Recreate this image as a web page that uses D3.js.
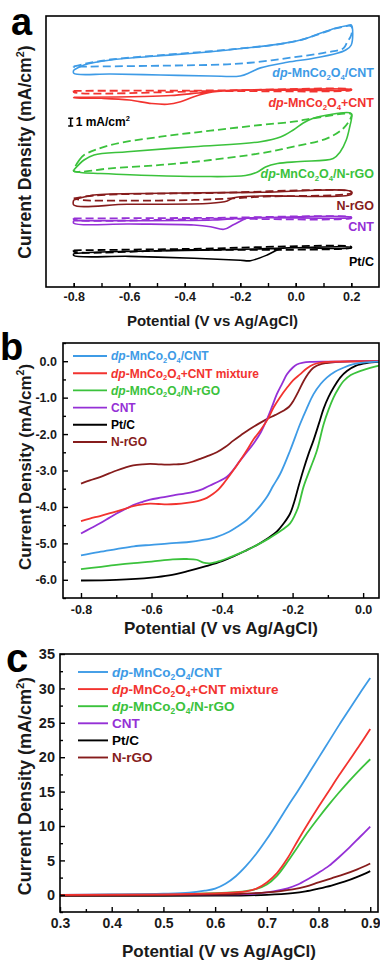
<!DOCTYPE html>
<html>
<head>
<meta charset="utf-8">
<script src="https://cdn.jsdelivr.net/npm/d3@7"></script>
<style>
  body { margin: 0; background: #fff; }
  svg { display: block; }
  text { font-family: "Liberation Sans", Arial, Helvetica, sans-serif; font-weight: bold; }
</style>
</head>
<body>
<svg id="fig" width="380" height="963"></svg>
<script>
// ---- colours / names ----
const COL = { blue: '#3e9be6', red: '#f2332f', green: '#3bc23c', purple: '#9530d6', black: '#000000', maroon: '#861c1c' };

const nameCNT = [{ t: 'dp', i: 1 }, { t: '-MnCo' }, { t: '2', sub: 1 }, { t: 'O' }, { t: '4', sub: 1 }, { t: '/CNT' }];
const nameMixA = [{ t: 'dp', i: 1 }, { t: '-MnCo' }, { t: '2', sub: 1 }, { t: 'O' }, { t: '4', sub: 1 }, { t: '+CNT' }];
const nameMix = [{ t: 'dp', i: 1 }, { t: '-MnCo' }, { t: '2', sub: 1 }, { t: 'O' }, { t: '4', sub: 1 }, { t: '+CNT mixture' }];
const nameNrGO = [{ t: 'dp', i: 1 }, { t: '-MnCo' }, { t: '2', sub: 1 }, { t: 'O' }, { t: '4', sub: 1 }, { t: '/N-rGO' }];

// ---- panel a: CV loops (E in V, stacked current in mA/cm2, arbitrary offset) ----
const cvBlueSolid = [[-0.8, 28.03], [-0.763, 28.67], [-0.667, 29.32], [-0.487, 29.87], [-0.307, 30.39], [-0.187, 30.83], [-0.067, 31.34], [0.017, 31.90], [0.088, 32.76], [0.149, 33.49], [0.185, 33.75], [0.2, 33.84],
  [0.2, 31.25], [0.18, 30.61], [0.149, 30.18], [0.064, 29.54], [-0.031, 29.02], [-0.127, 28.30], [-0.163, 27.73], [-0.2, 27.25], [-0.307, 27.25], [-0.487, 27.38], [-0.667, 27.51], [-0.8, 27.60]];
const cvBlueDash = [[-0.8, 28.48], [-0.763, 28.80], [-0.667, 29.38], [-0.487, 29.94], [-0.307, 30.45], [-0.187, 30.85], [-0.067, 31.32], [0.017, 31.88], [0.088, 32.72], [0.149, 33.42], [0.2, 33.68],
  [0.2, 32.55], [0.185, 31.6], [0.172, 30.83], [0.113, 30.31], [-0.008, 29.67], [-0.127, 29.10], [-0.247, 28.76], [-0.487, 28.58], [-0.775, 28.45], [-0.8, 28.42]];
const cvRedSolid = [[-0.8, 24.50], [-0.55, 24.60], [-0.45, 24.73], [-0.35, 25.05], [-0.25, 25.38], [-0.1, 25.49], [0.2, 25.53],
  [0.2, 25.48], [-0.2, 25.44], [-0.3, 25.18], [-0.367, 24.58], [-0.415, 23.93], [-0.463, 23.60], [-0.52, 23.70], [-0.6, 24.15], [-0.7, 24.37], [-0.8, 24.45]];
const cvRedDash = [[-0.8, 25.34], [-0.3, 25.38], [0.2, 25.51], [0.2, 25.44], [-0.3, 25.30], [-0.8, 25.18]];
const cvGreenSolid = [[-0.8, 15.11], [-0.763, 16.40], [-0.727, 17.05], [-0.607, 17.47], [-0.367, 18.12], [-0.127, 18.77], [-0.055, 19.37], [-0.009, 20.28], [0.027, 21.18], [0.063, 21.79], [0.114, 22.21], [0.2, 22.41],
  [0.2, 21.57], [0.196, 20.92], [0.182, 18.98], [0.16, 17.44], [0.135, 16.60], [0.017, 16.21], [-0.066, 15.95], [-0.109, 15.50], [-0.138, 14.85], [-0.181, 14.40], [-0.343, 14.27], [-0.523, 14.40], [-0.703, 14.66], [-0.775, 14.79], [-0.8, 14.98]];
const cvGreenDash = [[-0.78, 16.40], [-0.763, 17.05], [-0.667, 18.34], [-0.487, 19.41], [-0.307, 20.19], [-0.127, 20.92], [-0.008, 21.35], [0.063, 21.79], [0.2, 22.34],
  [0.2, 21.99], [0.172, 20.50], [0.113, 19.20], [-0.008, 18.12], [-0.127, 17.27], [-0.307, 16.40], [-0.487, 15.76], [-0.667, 15.33], [-0.775, 14.89], [-0.8, 14.98]];
const cvMaroonSolid = [[-0.8, 11.24], [-0.775, 11.53], [-0.727, 11.88], [-0.487, 12.10], [-0.127, 12.23], [0.2, 12.31],
  [0.2, 11.97], [-0.127, 11.75], [-0.223, 11.53], [-0.247, 11.11], [-0.307, 10.81], [-0.607, 10.68], [-0.8, 10.59]];
const cvMaroonDash = [[-0.8, 11.43], [-0.727, 11.82], [-0.3, 12.14], [0.2, 12.33], [0.2, 12.14], [-0.127, 11.66], [-0.223, 11.46], [-0.367, 11.24], [-0.607, 11.15], [-0.775, 11.24]];
const cvPurpleSolid = [[-0.8, 8.59], [-0.6, 8.56], [-0.4, 8.59], [-0.3, 8.65], [-0.2, 8.85], [0.2, 9.01],
  [0.2, 8.96], [-0.1, 8.95], [-0.175, 8.87], [-0.223, 8.07], [-0.259, 7.45], [-0.307, 7.79], [-0.367, 8.01], [-0.6, 8.14], [-0.8, 8.23]];
const cvPurpleDash = [[-0.8, 8.85], [-0.3, 8.93], [0.2, 9.00], [0.2, 8.91], [-0.3, 8.82], [-0.8, 8.72]];
const cvBlackSolid = [[-0.8, 4.33], [-0.7, 4.52], [-0.4, 4.71], [-0.15, 4.91], [0.2, 5.13],
  [0.2, 5.06], [-0.05, 5.00], [-0.067, 4.78], [-0.103, 4.13], [-0.163, 3.40], [-0.2, 3.45], [-0.367, 3.71], [-0.6, 3.96], [-0.8, 4.07]];
const cvBlackDash = [[-0.8, 4.74], [-0.4, 4.91], [0.2, 5.19], [0.2, 5.10], [-0.4, 4.78], [-0.8, 4.58]];
const scaleBarA = [20.8, 21.8]; // 1 mA/cm2

// ---- panel b: ORR LSV ----
const lsvBlue = [[-0.8, -5.33], [-0.75, -5.24], [-0.7, -5.16], [-0.65, -5.08], [-0.6, -5.04], [-0.55, -5.0], [-0.5, -4.97], [-0.45, -4.9], [-0.415, -4.82], [-0.38, -4.68], [-0.358, -4.55], [-0.33, -4.36], [-0.311, -4.18], [-0.29, -3.95], [-0.273, -3.73], [-0.255, -3.42], [-0.235, -3.09], [-0.207, -2.45], [-0.179, -1.73], [-0.16, -1.3], [-0.141, -0.91], [-0.12, -0.62], [-0.103, -0.45], [-0.08, -0.29], [-0.056, -0.18], [-0.03, -0.09], [0.0, -0.04], [0.045, -0.01]];
const lsvMix = [[-0.8, -4.39], [-0.775, -4.32], [-0.746, -4.25], [-0.72, -4.18], [-0.699, -4.12], [-0.675, -4.05], [-0.652, -3.98], [-0.625, -3.93], [-0.604, -3.91], [-0.58, -3.92], [-0.557, -3.93], [-0.53, -3.92], [-0.5, -3.89], [-0.48, -3.86], [-0.462, -3.82], [-0.443, -3.75], [-0.425, -3.64], [-0.41, -3.52], [-0.396, -3.36], [-0.372, -3.05], [-0.349, -2.73], [-0.33, -2.45], [-0.311, -2.15], [-0.29, -1.88], [-0.268, -1.55], [-0.254, -1.27], [-0.235, -0.98], [-0.216, -0.73], [-0.198, -0.52], [-0.179, -0.36], [-0.16, -0.2], [-0.141, -0.09], [-0.12, -0.04], [-0.1, -0.02], [0.045, 0]];
const lsvNrGOhyb = [[-0.8, -5.71], [-0.75, -5.65], [-0.7, -5.59], [-0.65, -5.54], [-0.6, -5.5], [-0.54, -5.44], [-0.5, -5.43], [-0.472, -5.45], [-0.453, -5.53], [-0.434, -5.55], [-0.405, -5.48], [-0.375, -5.37], [-0.349, -5.27], [-0.32, -5.14], [-0.292, -5.0], [-0.268, -4.87], [-0.245, -4.73], [-0.225, -4.6], [-0.207, -4.45], [-0.195, -4.25], [-0.184, -4.0], [-0.169, -3.45], [-0.15, -2.95], [-0.131, -2.45], [-0.112, -1.73], [-0.098, -1.33], [-0.084, -1.0], [-0.07, -0.75], [-0.056, -0.55], [-0.035, -0.38], [-0.009, -0.27], [0.02, -0.18], [0.045, -0.12]];
const lsvCNT = [[-0.8, -4.73], [-0.775, -4.6], [-0.746, -4.45], [-0.72, -4.3], [-0.699, -4.18], [-0.675, -4.06], [-0.652, -3.95], [-0.625, -3.86], [-0.604, -3.8], [-0.57, -3.74], [-0.538, -3.68], [-0.51, -3.64], [-0.481, -3.59], [-0.455, -3.51], [-0.434, -3.41], [-0.41, -3.3], [-0.387, -3.18], [-0.368, -2.98], [-0.349, -2.73], [-0.33, -2.5], [-0.31, -2.25], [-0.29, -1.95], [-0.273, -1.6], [-0.258, -1.24], [-0.245, -0.91], [-0.23, -0.62], [-0.216, -0.36], [-0.2, -0.18], [-0.188, -0.09], [-0.17, -0.04], [-0.15, -0.02], [-0.1, -0.01], [0.045, 0]];
const lsvPtC = [[-0.8, -6.02], [-0.7, -6.0], [-0.6, -5.94], [-0.55, -5.88], [-0.5, -5.77], [-0.443, -5.62], [-0.4, -5.49], [-0.368, -5.36], [-0.335, -5.21], [-0.302, -5.05], [-0.27, -4.86], [-0.245, -4.68], [-0.225, -4.45], [-0.207, -4.18], [-0.195, -3.85], [-0.185, -3.5], [-0.17, -3.0], [-0.155, -2.55], [-0.141, -2.18], [-0.125, -1.7], [-0.112, -1.3], [-0.098, -0.98], [-0.084, -0.73], [-0.065, -0.45], [-0.046, -0.27], [-0.02, -0.12], [0.01, -0.05], [0.045, -0.02]];
const lsvNrGO = [[-0.8, -3.36], [-0.775, -3.27], [-0.746, -3.18], [-0.72, -3.08], [-0.699, -3.0], [-0.675, -2.92], [-0.652, -2.86], [-0.625, -2.83], [-0.604, -2.82], [-0.58, -2.83], [-0.557, -2.84], [-0.53, -2.83], [-0.51, -2.82], [-0.485, -2.76], [-0.462, -2.68], [-0.44, -2.6], [-0.415, -2.5], [-0.39, -2.35], [-0.368, -2.18], [-0.345, -2.02], [-0.321, -1.86], [-0.297, -1.72], [-0.273, -1.59], [-0.25, -1.48], [-0.226, -1.36], [-0.21, -1.25], [-0.198, -1.09], [-0.183, -0.82], [-0.169, -0.55], [-0.155, -0.33], [-0.141, -0.18], [-0.12, -0.08], [-0.103, -0.05], [-0.05, -0.01], [0.045, 0]];

// ---- panel c: OER LSV ----
const oerBlue = [[0.3, 0], [0.4, 0.05], [0.5, 0.15], [0.55, 0.3], [0.58, 0.6], [0.6, 0.9], [0.62, 1.6], [0.64, 2.7], [0.66, 4.2], [0.68, 6.0], [0.70, 8.1], [0.72, 10.4], [0.74, 12.8], [0.76, 15.1], [0.78, 17.5], [0.80, 19.9], [0.82, 22.3], [0.84, 24.7], [0.86, 27.0], [0.88, 29.3], [0.90, 31.5]];
const oerMix = [[0.3, 0], [0.5, 0.05], [0.6, 0.2], [0.64, 0.35], [0.66, 0.5], [0.68, 0.9], [0.70, 1.8], [0.72, 3.2], [0.74, 5.3], [0.76, 7.9], [0.78, 10.4], [0.80, 12.8], [0.82, 15.1], [0.84, 17.4], [0.86, 19.6], [0.88, 21.8], [0.90, 24.1]];
const oerNrGOhyb = [[0.3, 0], [0.5, 0.05], [0.6, 0.25], [0.64, 0.4], [0.66, 0.55], [0.68, 0.85], [0.70, 1.5], [0.72, 2.8], [0.74, 4.8], [0.76, 7.0], [0.78, 9.2], [0.80, 11.2], [0.82, 13.1], [0.84, 14.9], [0.86, 16.6], [0.88, 18.2], [0.90, 19.7]];
const oerCNT = [[0.3, 0], [0.6, 0.05], [0.66, 0.1], [0.68, 0.2], [0.70, 0.35], [0.72, 0.6], [0.74, 0.95], [0.76, 1.5], [0.78, 2.3], [0.80, 3.2], [0.82, 4.2], [0.84, 5.5], [0.86, 6.9], [0.88, 8.4], [0.90, 9.9]];
const oerPtC = [[0.3, -0.15], [0.5, -0.15], [0.6, -0.12], [0.65, -0.1], [0.7, 0.0], [0.75, 0.25], [0.775, 0.5], [0.8, 0.9], [0.825, 1.35], [0.85, 1.9], [0.875, 2.6], [0.9, 3.45]];
const oerNrGO = [[0.3, -0.1], [0.5, -0.05], [0.6, 0.05], [0.65, 0.15], [0.7, 0.35], [0.75, 0.8], [0.775, 1.2], [0.8, 1.8], [0.825, 2.4], [0.85, 3.0], [0.875, 3.7], [0.9, 4.55]];

// ---- ticks ----
const ticksAx = [-0.8, -0.6, -0.4, -0.2, 0.0, 0.2];
const ticksAxMinor = [-0.8, -0.7, -0.6, -0.5, -0.4, -0.3, -0.2, -0.1, 0.0, 0.1, 0.2];
const ticksBx = [-0.8, -0.6, -0.4, -0.2, 0.0];
const ticksBxMinor = [-0.7, -0.5, -0.3, -0.1];
const ticksBy = [0, -1, -2, -3, -4, -5, -6];
const ticksByMinor = [0.5, -0.5, -1.5, -2.5, -3.5, -4.5, -5.5, -6.5];
const ticksCx = [0.3, 0.4, 0.5, 0.6, 0.7, 0.8, 0.9];
const ticksCxMinor = [0.35, 0.45, 0.55, 0.65, 0.75, 0.85];
const ticksCy = [0, 5, 10, 15, 20, 25, 30, 35];
const ticksCyMinor = [-2.5, 2.5, 7.5, 12.5, 17.5, 22.5, 27.5, 32.5];

const svg = d3.select('#fig');

function rich(textSel, parts, size) {
  let shift = 0;
  parts.forEach(p => {
    const ts = textSel.append('tspan').text(p.t);
    if (p.i) ts.attr('font-style', 'italic');
    const target = p.sub ? size * 0.22 : p.sup ? -size * 0.4 : 0;
    if (p.sub || p.sup) ts.attr('font-size', size * 0.62);
    if (target !== shift) { ts.attr('dy', target - shift); shift = target; }
  });
}

const yTitleParts = [{ t: 'Current Density (mA/cm' }, { t: '2', sup: 1 }, { t: ')' }];

function frame(box) {
  svg.append('rect')
    .attr('x', box.l).attr('y', box.t)
    .attr('width', box.r - box.l).attr('height', box.b - box.t)
    .attr('fill', 'none').attr('stroke', '#000').attr('stroke-width', 1.6);
}

function styleAxis(g, size) {
  g.select('.domain').remove();
  g.selectAll('line').attr('stroke', '#000').attr('stroke-width', 1.4);
  g.selectAll('text').attr('font-size', size).attr('fill', '#1a1a1a')
    .attr('font-family', '"Liberation Sans", Arial, sans-serif').attr('font-weight', 'bold');
}

function xAxes(x, box, major, minor, fmt, pad, size, majorLen, minorLen) {
  svg.append('g').attr('transform', `translate(0,${box.b})`)
    .call(d3.axisBottom(x).tickValues(minor).tickSize(-minorLen).tickFormat(''))
    .call(g => styleAxis(g, size));
  svg.append('g').attr('transform', `translate(0,${box.b})`)
    .call(d3.axisBottom(x).tickValues(major).tickSize(-majorLen).tickPadding(pad).tickFormat(fmt))
    .call(g => styleAxis(g, size));
}

function yAxes(y, box, major, minor, fmt, pad, size) {
  svg.append('g').attr('transform', `translate(${box.l},0)`)
    .call(d3.axisLeft(y).tickValues(minor).tickSize(-3).tickFormat(''))
    .call(g => styleAxis(g, size));
  svg.append('g').attr('transform', `translate(${box.l},0)`)
    .call(d3.axisLeft(y).tickValues(major).tickSize(-5).tickPadding(pad).tickFormat(fmt))
    .call(g => styleAxis(g, size));
}

function titles(box, xt, yt, letter) {
  svg.append('text').attr('x', (box.l + box.r) / 2).attr('y', xt.y)
    .attr('text-anchor', 'middle').attr('font-size', xt.size).attr('fill', '#1a1a1a')
    .text('Potential (V vs Ag/AgCl)');
  const t = svg.append('text').attr('transform', `translate(${yt.x},${yt.y}) rotate(-90)`)
    .attr('text-anchor', 'middle').attr('font-size', yt.size).attr('fill', '#1a1a1a');
  rich(t, yTitleParts, yt.size);
  svg.append('text').attr('x', letter.x).attr('y', letter.y)
    .attr('font-size', letter.size).attr('fill', '#000').text(letter.t);
}

function legend(entries, lx0, lx1, ty, dy, size) {
  entries.forEach((e, i) => {
    const yy = ty + i * dy;
    svg.append('line').attr('x1', lx0).attr('x2', lx1).attr('y1', yy).attr('y2', yy)
      .attr('stroke', e.c).attr('stroke-width', 1.9);
    const t = svg.append('text').attr('x', lx1 + 4).attr('y', yy + size * 0.36)
      .attr('font-size', size).attr('fill', e.c);
    rich(t, e.name, size);
  });
}

const fmt1 = d => d.toFixed(1);

// ================= panel a =================
{
  const box = { l: 46, r: 379, t: 16, b: 287 };
  const x = d3.scaleLinear().domain([-0.9, 0.3]).range([box.l, box.r]);
  const y = d3.scaleLinear().domain([0, 35]).range([box.b, box.t]);
  const line = d3.line().x(d => x(d[0])).y(d => y(d[1])).curve(d3.curveCatmullRom.alpha(0.5));
  const loops = [
    [cvBlueSolid, COL.blue, false], [cvBlueDash, COL.blue, true],
    [cvRedSolid, COL.red, false], [cvRedDash, COL.red, true],
    [cvGreenSolid, COL.green, false], [cvGreenDash, COL.green, true],
    [cvMaroonSolid, COL.maroon, false], [cvMaroonDash, COL.maroon, true],
    [cvPurpleSolid, COL.purple, false], [cvPurpleDash, COL.purple, true],
    [cvBlackSolid, COL.black, false], [cvBlackDash, COL.black, true]
  ];
  loops.forEach(([pts, c, dashed]) => {
    svg.append('path').datum(pts.concat([pts[0]]))
      .attr('d', line).attr('fill', 'none').attr('stroke', c)
      .attr('stroke-width', dashed ? 1.8 : 1.6)
      .attr('stroke-dasharray', dashed ? '8,4' : null)
      .attr('stroke-linejoin', 'round');
  });

  // scale bar
  const sbx = x(-0.811);
  svg.append('path')
    .attr('d', `M${sbx - 2.5},${y(scaleBarA[1])}H${sbx + 2.5}M${sbx},${y(scaleBarA[1])}V${y(scaleBarA[0])}M${sbx - 2.5},${y(scaleBarA[0])}H${sbx + 2.5}`)
    .attr('stroke', '#000').attr('stroke-width', 1.6).attr('fill', 'none');
  const sb = svg.append('text').attr('x', sbx + 5).attr('y', y(scaleBarA[0]))
    .attr('font-size', 12).attr('fill', '#000');
  rich(sb, [{ t: '1 mA/cm' }, { t: '2', sup: 1 }], 12);

  const labels = [
    { name: nameCNT, c: COL.blue, y: 77 },
    { name: nameMixA, c: COL.red, y: 107 },
    { name: nameNrGO, c: COL.green, y: 178 },
    { name: [{ t: 'N-rGO' }], c: COL.maroon, y: 210 },
    { name: [{ t: 'CNT' }], c: COL.purple, y: 231 },
    { name: [{ t: 'Pt/C' }], c: COL.black, y: 266 }
  ];
  labels.forEach(l => {
    const t = svg.append('text').attr('x', 374).attr('y', l.y)
      .attr('text-anchor', 'end').attr('font-size', 12.5).attr('fill', l.c);
    rich(t, l.name, 12.5);
  });

  xAxes(x, box, ticksAx, ticksAxMinor, fmt1, 5, 12.5, 4, 4);
  frame(box);
  titles(box, { y: 326, size: 15 }, { x: 31, y: 152, size: 17.6 }, { t: 'a', x: 11, y: 35, size: 38 });
}

// ================= panel b =================
{
  const box = { l: 63, r: 379, t: 343, b: 598 };
  const x = d3.scaleLinear().domain([-0.851, 0.045]).range([box.l, box.r]);
  const y = d3.scaleLinear().domain([-6.5, 0.5]).range([box.b, box.t]);
  const line = d3.line().x(d => x(d[0])).y(d => y(d[1])).curve(d3.curveCatmullRom.alpha(0.5));
  const series = [
    [lsvNrGO, COL.maroon], [lsvPtC, COL.black], [lsvCNT, COL.purple],
    [lsvNrGOhyb, COL.green], [lsvMix, COL.red], [lsvBlue, COL.blue]
  ];
  series.forEach(([pts, c]) => {
    svg.append('path').datum(pts).attr('d', line)
      .attr('fill', 'none').attr('stroke', c).attr('stroke-width', 1.8);
  });
  xAxes(x, box, ticksBx, ticksBxMinor, fmt1, 7, 12.5, 5, 3);
  yAxes(y, box, ticksBy, ticksByMinor, fmt1, 6, 12.5);
  frame(box);
  legend([
    { name: nameCNT, c: COL.blue }, { name: nameMix, c: COL.red }, { name: nameNrGO, c: COL.green },
    { name: [{ t: 'CNT' }], c: COL.purple }, { name: [{ t: 'Pt/C' }], c: COL.black }, { name: [{ t: 'N-rGO' }], c: COL.maroon }
  ], 73, 107, 356, 17.2, 12);
  titles(box, { y: 634, size: 17 }, { x: 31, y: 467, size: 17 }, { t: 'b', x: 0, y: 360, size: 38 });
}

// ================= panel c =================
{
  const box = { l: 60, r: 378, t: 654, b: 912 };
  const x = d3.scaleLinear().domain([0.3, 0.915]).range([box.l, box.r]);
  const y = d3.scaleLinear().domain([-2.5, 35]).range([box.b, box.t]);
  const line = d3.line().x(d => x(d[0])).y(d => y(d[1])).curve(d3.curveCatmullRom.alpha(0.5));
  const series = [
    [oerPtC, COL.black], [oerCNT, COL.purple], [oerNrGOhyb, COL.green],
    [oerBlue, COL.blue], [oerNrGO, COL.maroon], [oerMix, COL.red]
  ];
  series.forEach(([pts, c]) => {
    svg.append('path').datum(pts).attr('d', line)
      .attr('fill', 'none').attr('stroke', c).attr('stroke-width', 1.8);
  });
  xAxes(x, box, ticksCx, ticksCxMinor, fmt1, 6, 14, 5, 3);
  yAxes(y, box, ticksCy, ticksCyMinor, d => String(d), 5, 14.5);
  frame(box);
  legend([
    { name: nameCNT, c: COL.blue }, { name: nameMix, c: COL.red }, { name: nameNrGO, c: COL.green },
    { name: [{ t: 'CNT' }], c: COL.purple }, { name: [{ t: 'Pt/C' }], c: COL.black }, { name: [{ t: 'N-rGO' }], c: COL.maroon }
  ], 78, 108, 672, 17.1, 13.5);
  titles(box, { y: 957, size: 17 }, { x: 31, y: 786, size: 18 }, { t: 'c', x: 6, y: 672, size: 40 });
}
</script>
</body>
</html>
